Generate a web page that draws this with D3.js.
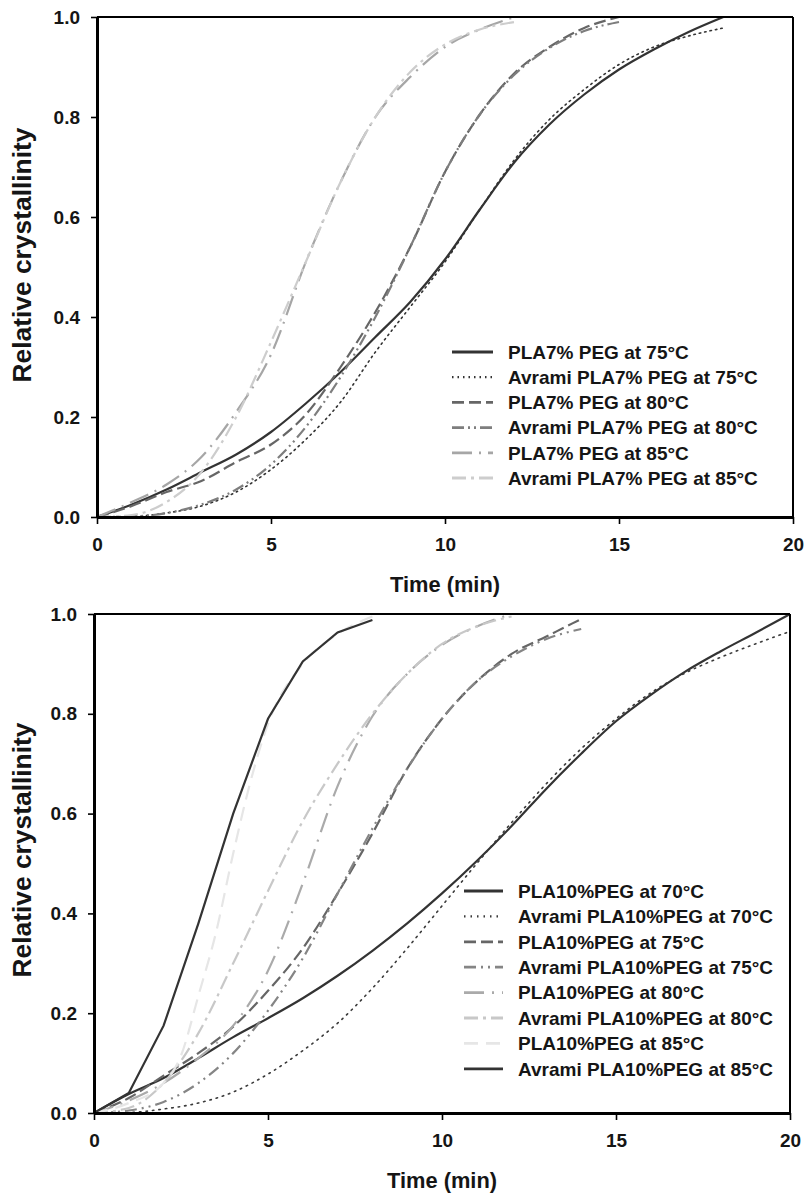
<!DOCTYPE html>
<html><head><meta charset="utf-8">
<script src="https://cdn.jsdelivr.net/npm/d3@7"></script>
<style>
body{margin:0;background:#fff;}
text{font-family:Arial,"Liberation Sans",sans-serif;fill:#151515;}
</style></head>
<body>
<svg id="c" width="806" height="1195"></svg>
<script>
// ---------- DATA (time in min, relative crystallinity) ----------
const xTicks = [0, 5, 10, 15, 20];
const yTicks = [0, 0.2, 0.4, 0.6, 0.8, 1.0];

// Top panel: PLA7% PEG
const top75 = [[0,0],[1,0.025],[2,0.055],[3,0.09],[4,0.125],[5,0.17],[6,0.227],[7,0.29],[8,0.36],[9,0.43],[10,0.515],[11,0.615],[12,0.71],[13,0.785],[14,0.845],[15,0.895],[16,0.935],[17,0.97],[18,1.0]];
const topAv75 = [[0,0],[1,0.001],[2,0.008],[3,0.022],[4,0.05],[5,0.095],[6,0.155],[7,0.23],[8,0.33],[9,0.42],[10,0.51],[11,0.615],[12,0.715],[13,0.795],[14,0.855],[15,0.905],[16,0.94],[17,0.962],[18,0.978]];
const top80 = [[0,0],[1,0.022],[2,0.05],[3,0.072],[4,0.11],[5,0.145],[6,0.205],[7,0.3],[8,0.41],[9,0.54],[10,0.69],[11,0.805],[12,0.888],[13,0.94],[14,0.978],[15,1.0]];
const topAv80 = [[0,0],[1,0.001],[2,0.008],[3,0.025],[4,0.055],[5,0.105],[6,0.18],[7,0.28],[8,0.4],[9,0.54],[10,0.69],[11,0.805],[12,0.885],[13,0.938],[14,0.972],[15,0.99]];
const top85 = [[0,0],[1,0.03],[2,0.065],[3,0.12],[4,0.21],[5,0.325],[6,0.51],[7,0.67],[8,0.8],[9,0.88],[10,0.94],[11,0.975],[12,1.0]];
const topAv85 = [[0,0],[1,0.004],[2,0.03],[3,0.09],[4,0.2],[5,0.35],[6,0.51],[7,0.67],[8,0.8],[9,0.89],[10,0.945],[11,0.975],[12,0.99]];

// Bottom panel: PLA10% PEG
const bot70 = [[0,0],[1,0.038],[2,0.07],[3,0.11],[4,0.152],[5,0.19],[6,0.23],[7,0.275],[8,0.325],[9,0.38],[10,0.44],[11,0.505],[12,0.575],[13,0.65],[14,0.72],[15,0.785],[16,0.838],[17,0.885],[18,0.925],[19,0.962],[20,1.0]];
const botAv70 = [[0,0],[1,0.001],[2,0.008],[3,0.02],[4,0.042],[5,0.078],[6,0.125],[7,0.18],[8,0.25],[9,0.33],[10,0.415],[11,0.5],[12,0.582],[13,0.66],[14,0.73],[15,0.79],[16,0.842],[17,0.882],[18,0.913],[19,0.94],[20,0.965]];
const bot75 = [[0,0],[1,0.03],[2,0.075],[3,0.12],[4,0.173],[5,0.245],[6,0.33],[7,0.44],[8,0.56],[9,0.69],[10,0.79],[11,0.865],[12,0.92],[13,0.955],[14,0.99]];
const botAv75 = [[0,0],[1,0.005],[2,0.022],[3,0.06],[4,0.12],[5,0.205],[6,0.31],[7,0.44],[8,0.57],[9,0.69],[10,0.79],[11,0.865],[12,0.915],[13,0.95],[14,0.97]];
const bot80 = [[0,0],[1,0.025],[2,0.06],[3,0.11],[4,0.175],[5,0.285],[6,0.46],[7,0.655],[8,0.795],[9,0.88],[10,0.938],[11,0.975],[12,1.0]];
const botAv80 = [[0,0],[1,0.01],[2,0.06],[3,0.16],[4,0.3],[5,0.445],[6,0.585],[7,0.7],[8,0.8],[9,0.88],[10,0.94],[11,0.975],[12,0.995]];
const bot85 = [[0,0],[1,0.02],[2,0.06],[2.5,0.115],[3,0.235],[3.5,0.36],[4,0.52],[4.5,0.665],[5,0.78],[6,0.9],[7,0.96],[8,0.995]];
const botAv85 = [[0,0],[1,0.04],[2,0.175],[3,0.38],[4,0.6],[5,0.79],[6,0.905],[7,0.963],[8,0.988]];

const topLabels = ["PLA7% PEG at 75°C","Avrami PLA7% PEG at 75°C","PLA7% PEG at 80°C","Avrami PLA7% PEG at 80°C","PLA7% PEG at 85°C","Avrami PLA7% PEG at 85°C"];
const botLabels = ["PLA10%PEG at 70°C","Avrami PLA10%PEG at 70°C","PLA10%PEG at 75°C","Avrami PLA10%PEG at 75°C","PLA10%PEG at 80°C","Avrami PLA10%PEG at 80°C","PLA10%PEG at 85°C","Avrami PLA10%PEG at 85°C"];

// ---------- STYLES ----------
const topStyles = [
  {c:"#333", w:2.2, d:null},
  {c:"#333", w:1.6, d:"1.5,4"},
  {c:"#666", w:2.2, d:"12,5"},
  {c:"#7e7e7e", w:2.2, d:"12,4,2,4,2,4"},
  {c:"#a6a6a6", w:2.2, d:"20,7,2,7"},
  {c:"#cdcdcd", w:2.2, d:"14,5,3,5"}
];
const botStyles = [
  {c:"#333", w:2.2, d:null, curve:d3.curveMonotoneX},
  {c:"#3a3a3a", w:1.6, d:"1.5,5"},
  {c:"#666", w:2.2, d:"12,5"},
  {c:"#858585", w:2.2, d:"12,5,2,5,2,5"},
  {c:"#aaa", w:2.2, d:"20,8,2,8"},
  {c:"#c8c8c8", w:2.2, d:"14,5,3,5"},
  {c:"#e6e6e6", w:2.2, d:"14,8"},
  {c:"#333", w:2.2, d:null, curve:d3.curveLinear}
];

const svg = d3.select("#c");

function panel(opts){
  const {x0,x1,y0,y1,series,styles,labels,legX,legY,legStep,legLine,tickY,titleY,ytitleY} = opts;
  const x = d3.scaleLinear().domain([0,20]).range([x0,x1]);
  const y = d3.scaleLinear().domain([0,1]).range([y0,y1]);
  const g = svg.append("g");

  const clipId = "clip"+Math.round(y1);
  svg.append("clipPath").attr("id",clipId).append("rect")
    .attr("x",x0).attr("y",y1-2).attr("width",x1-x0+2).attr("height",y0-y1+2);

  // curves
  series.forEach((s,i)=>{
    const st = styles[i];
    const line = d3.line().x(d=>x(d[0])).y(d=>y(d[1])).curve(st.curve||d3.curveMonotoneX);
    g.append("path").datum(s).attr("d",line).attr("fill","none")
      .attr("stroke",st.c).attr("stroke-width",st.w)
      .attr("stroke-dasharray",st.d).attr("stroke-linecap", st.d && st.d.startsWith("1.5")?"round":"butt")
      .attr("clip-path","url(#"+clipId+")");
  });

  // frame top/right
  g.append("line").attr("x1",x0).attr("x2",x1).attr("y1",y1).attr("y2",y1).attr("stroke","#000").attr("stroke-width",2);
  g.append("line").attr("x1",x1).attr("x2",x1).attr("y1",y1).attr("y2",y0).attr("stroke","#000").attr("stroke-width",2);

  // axes
  const ax = g.append("g").attr("transform",`translate(0,${y0})`)
    .call(d3.axisBottom(x).tickValues(xTicks).tickFormat(d3.format("d")).tickSize(7).tickSizeOuter(0).tickPadding(tickY));
  const ay = g.append("g").attr("transform",`translate(${x0},0)`)
    .call(d3.axisLeft(y).tickValues(yTicks).tickFormat(d3.format(".1f")).tickSize(6).tickSizeOuter(0).tickPadding(11));
  [ax,ay].forEach(a=>{
    a.select(".domain").attr("stroke","#000").attr("stroke-width",3);
    a.selectAll(".tick line").attr("stroke","#000").attr("stroke-width",1.6);
    a.selectAll(".tick text").attr("font-size",19).attr("font-weight","bold")
      .attr("font-family","Arial, 'Liberation Sans', sans-serif").attr("fill","#151515");
  });

  // axis titles
  g.append("text").attr("x",(x0+x1)/2).attr("y",titleY).attr("text-anchor","middle")
    .attr("font-size",22).attr("font-weight","bold").attr("textLength",110).attr("lengthAdjust","spacingAndGlyphs")
    .text("Time (min)");
  g.append("text").attr("transform",`translate(31,${ytitleY}) rotate(-90)`).attr("text-anchor","middle")
    .attr("font-size",25).attr("font-weight","bold").attr("textLength",255).attr("lengthAdjust","spacingAndGlyphs")
    .text("Relative crystallinity");

  // legend
  labels.forEach((lab,i)=>{
    const yy = legY + i*legStep;
    const st = styles[i];
    g.append("line").attr("x1",legLine[0]).attr("x2",legLine[1]).attr("y1",yy).attr("y2",yy)
      .attr("stroke",st.c).attr("stroke-width",st.w+0.6).attr("stroke-dasharray",st.d);
    g.append("text").attr("x",legX).attr("y",yy).attr("dy","0.36em")
      .attr("font-size",19).attr("font-weight","bold").text(lab);
  });
}

panel({x0:97,x1:793,y0:517,y1:17,
  series:[top75,topAv75,top80,topAv80,top85,topAv85],
  styles:topStyles,labels:topLabels,
  legX:508,legY:352,legStep:25.2,legLine:[452,493],
  tickY:14,titleY:592,ytitleY:255});

panel({x0:94,x1:790,y0:1113,y1:614,
  series:[bot70,botAv70,bot75,botAv75,bot80,botAv80,bot85,botAv85],
  styles:botStyles,labels:botLabels,
  legX:518,legY:891,legStep:25.4,legLine:[464,503],
  tickY:14,titleY:1188,ytitleY:850});
</script>
</body></html>
